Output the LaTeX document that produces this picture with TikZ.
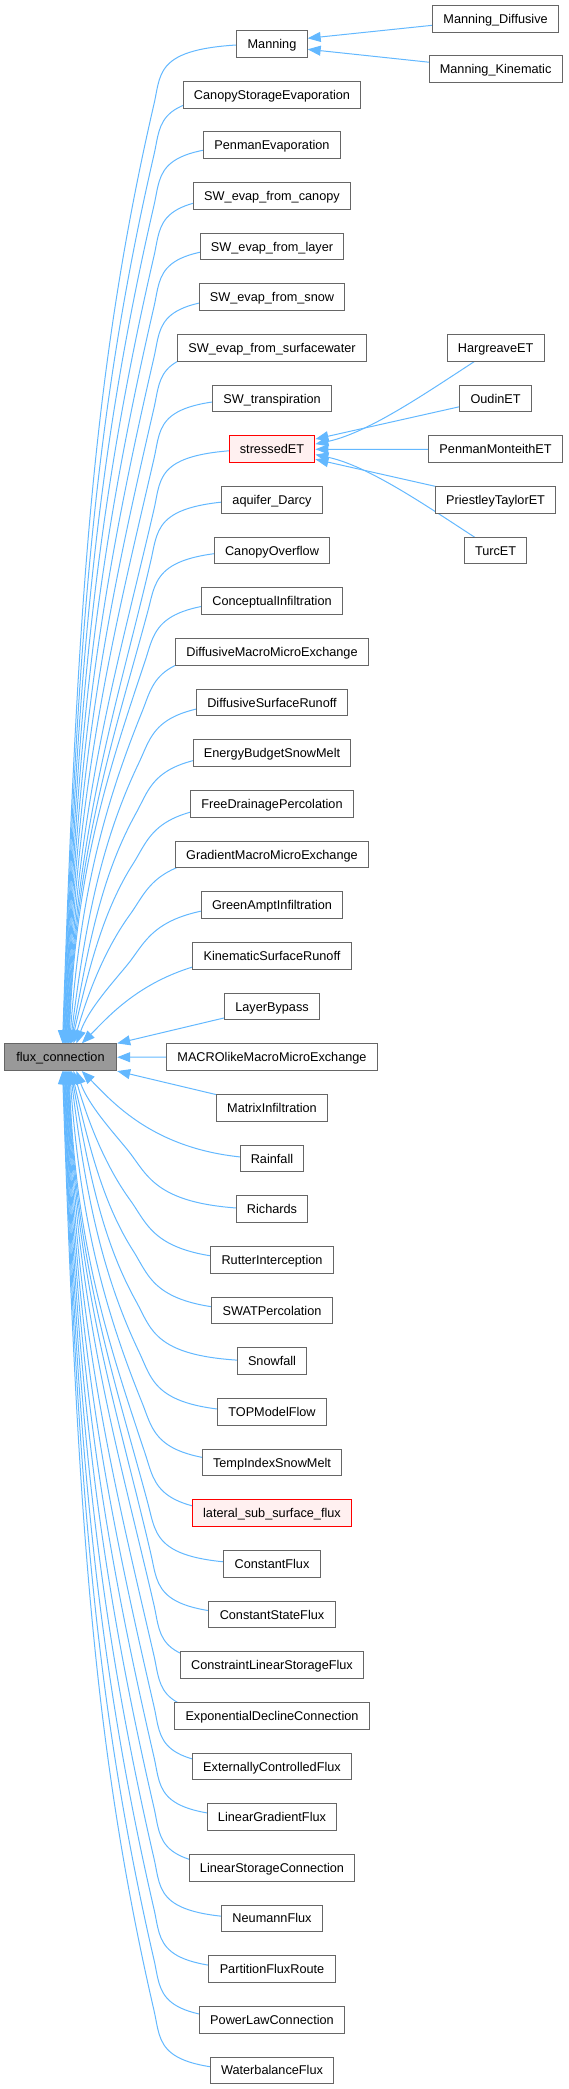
\documentclass[tikz,border=0pt]{standalone}
\usepackage{fontspec}
\setmainfont{Liberation Sans}
\usetikzlibrary{arrows.meta,calc}
\definecolor{edgeblue}{HTML}{63B8FF}
\definecolor{boxgray}{HTML}{666666}
\definecolor{fcgray}{HTML}{999999}
\definecolor{redfill}{HTML}{FFF0F0}
\pgfdeclarelayer{bg}
\pgfsetlayers{bg,main}
\newcommand\boxfont{\fontsize{12.7pt}{15pt}\selectfont}
\begin{document}
\begin{tikzpicture}[x=1pt,y=1pt,
  box/.style={draw=boxgray, fill=white, line width=1pt, minimum height=26.7pt, inner xsep=10.8pt, inner ysep=0pt, text height=9.1pt, text depth=0pt, font=\boxfont},
  redbox/.style={box, draw=red, fill=redfill},
  fcbox/.style={box, fill=fcgray, minimum width=112.4pt},
  edge/.style={draw=edgeblue, line width=1pt, {Triangle[length=13pt,width=10pt]}-}]
\useasboundingbox (0,0) rectangle (569,-2089);

% main column
\foreach \k/\t in {0/Manning,1/CanopyStorageEvaporation,2/PenmanEvaporation,3/SW\_evap\_from\_canopy,4/SW\_evap\_from\_layer,5/SW\_evap\_from\_snow,6/SW\_evap\_from\_surfacewater,7/SW\_transpiration,9/aquifer\_Darcy,10/CanopyOverflow,11/ConceptualInfiltration,12/DiffusiveMacroMicroExchange,13/DiffusiveSurfaceRunoff,14/EnergyBudgetSnowMelt,15/FreeDrainagePercolation,16/GradientMacroMicroExchange,17/GreenAmptInfiltration,18/KinematicSurfaceRunoff,19/LayerBypass,20/MACROlikeMacroMicroExchange,21/MatrixInfiltration,22/Rainfall,23/Richards,24/RutterInterception,25/SWATPercolation,26/Snowfall,27/TOPModelFlow,28/TempIndexSnowMelt,30/ConstantFlux,31/ConstantStateFlux,32/ConstraintLinearStorageFlux,33/ExponentialDeclineConnection,34/ExternallyControlledFlux,35/LinearGradientFlux,36/LinearStorageConnection,37/NeumannFlux,38/PartitionFluxRoute,39/PowerLawConnection,40/WaterbalanceFlux}
  \node[box] (n\k) at (272,{-(44+50.66*\k)}) {\t};
\node[redbox] (n8) at (272,{-(44+50.66*8)}) {stressedET};
\node[redbox] (n29) at (272,{-(44+50.66*29)}) {lateral\_sub\_surface\_flux};

% base class
\node[fcbox] (fc) at (60.5,-1057.2) {flux\_connection};

% right column
\node[box] (md) at (495.6,-18.7) {Manning\_Diffusive};
\node[box] (mk) at (495.6,-69.3) {Manning\_Kinematic};
\node[box] (hg) at (495.6,-347.96) {HargreaveET};
\node[box] (ou) at (495.6,-398.62) {OudinET};
\node[box] (pm) at (495.6,-449.28) {PenmanMonteithET};
\node[box] (pt) at (495.6,-499.94) {PriestleyTaylorET};
\node[box] (tu) at (495.6,-550.6) {TurcET};

\begin{pgfonlayer}{bg}
% Manning children
\draw[edge] ($(n0.east)+(0,5.7)$) -- (md.center);
\draw[edge] ($(n0.east)+(0,-5.3)$) -- (mk.center);
% stressedET children
\draw[edge] ($(n8.east)+(0,10.2)$) -- (ou.center);
\draw[edge] ($(n8.east)+(0,5.2)$) .. controls ($(n8.east)+(0,5.2)+(12:60)$) and ($(hg.center)+(212:62)$) .. (hg.center);
\draw[edge] (n8.east) -- (pm.center);
\draw[edge] ($(n8.east)+(0,-5.3)$) .. controls ($(n8.east)+(0,-5.3)+(-12:60)$) and ($(tu.center)+(148:62)$) .. (tu.center);
\draw[edge] ($(n8.east)+(0,-10)$) -- (pt.center);

% adjacent rows
\draw[edge] (fc.north east) -- (n19.center);
\draw[edge] (fc.east) -- (n20.center);
\draw[edge] (fc.south east) -- (n21.center);
\draw[edge] ($(fc.north west)+(78,0)$) .. controls ($(fc.north west)+(78,0)+(45:45)$) and ($(n18.center)+(-112,0)$) .. (n18.center);
\draw[edge] ($(fc.south west)+(78,0)$) .. controls ($(fc.south west)+(78,0)+(-45:45)$) and ($(n22.center)+(-112,0)$) .. (n22.center);

% classes above
\foreach \k in {0,...,17} {
  \pgfmathsetmacro\mydd{20-\k}
  \pgfmathsetmacro\mytx{\mydd==3 ? 77 : (\mydd==4 ? 74 : 72-0.6*(\mydd-5))}
  \pgfmathsetmacro\myal{min(77,40+3.5*\mydd)}
  \pgfmathsetmacro\myth{min(88,62+3*\mydd)}
  \pgfmathsetmacro\mymx{118+3*max(0,12-\mydd)}
  \pgfmathsetmacro\mydy{1044.05-(44+50.66*\k+60)}
  \pgfmathsetmacro\myla{0.45*\mydy}
  \pgfmathsetmacro\mylb{0.3*\mydy}
  \draw[edge] ($(fc.north west)+({\mytx-4.3},0)$) .. controls ($(fc.north west)+({\mytx-4.3},0)+(\myth:\myla)$) and ($(n\k.center)+(-\mymx,-60)+(180+\myal:\mylb)$) .. ($(n\k.center)+(-\mymx,-60)$) .. controls ($(n\k.center)+(-\mymx,-60)+(\myal:35)$) and ($(n\k.center)+(-118,0)$) .. (n\k.center);
}
% classes below
\foreach \k in {23,...,40} {
  \pgfmathsetmacro\mydd{\k-20}
  \pgfmathsetmacro\mytx{\mydd==3 ? 77 : (\mydd==4 ? 74 : 72-0.6*(\mydd-5))}
  \pgfmathsetmacro\myal{min(77,40+3.5*\mydd)}
  \pgfmathsetmacro\myth{min(88,62+3*\mydd)}
  \pgfmathsetmacro\mymx{118+3*max(0,12-\mydd)}
  \pgfmathsetmacro\mydy{(44+50.66*\k-60)-1070.99}
  \pgfmathsetmacro\myla{0.45*\mydy}
  \pgfmathsetmacro\mylb{0.3*\mydy}
  \draw[edge] ($(fc.south west)+({\mytx-4.3},0)$) .. controls ($(fc.south west)+({\mytx-4.3},0)+(-\myth:\myla)$) and ($(n\k.center)+(-\mymx,60)+(180-\myal:\mylb)$) .. ($(n\k.center)+(-\mymx,60)$) .. controls ($(n\k.center)+(-\mymx,60)+(-\myal:35)$) and ($(n\k.center)+(-118,0)$) .. (n\k.center);
}
\end{pgfonlayer}
\end{tikzpicture}
\end{document}
